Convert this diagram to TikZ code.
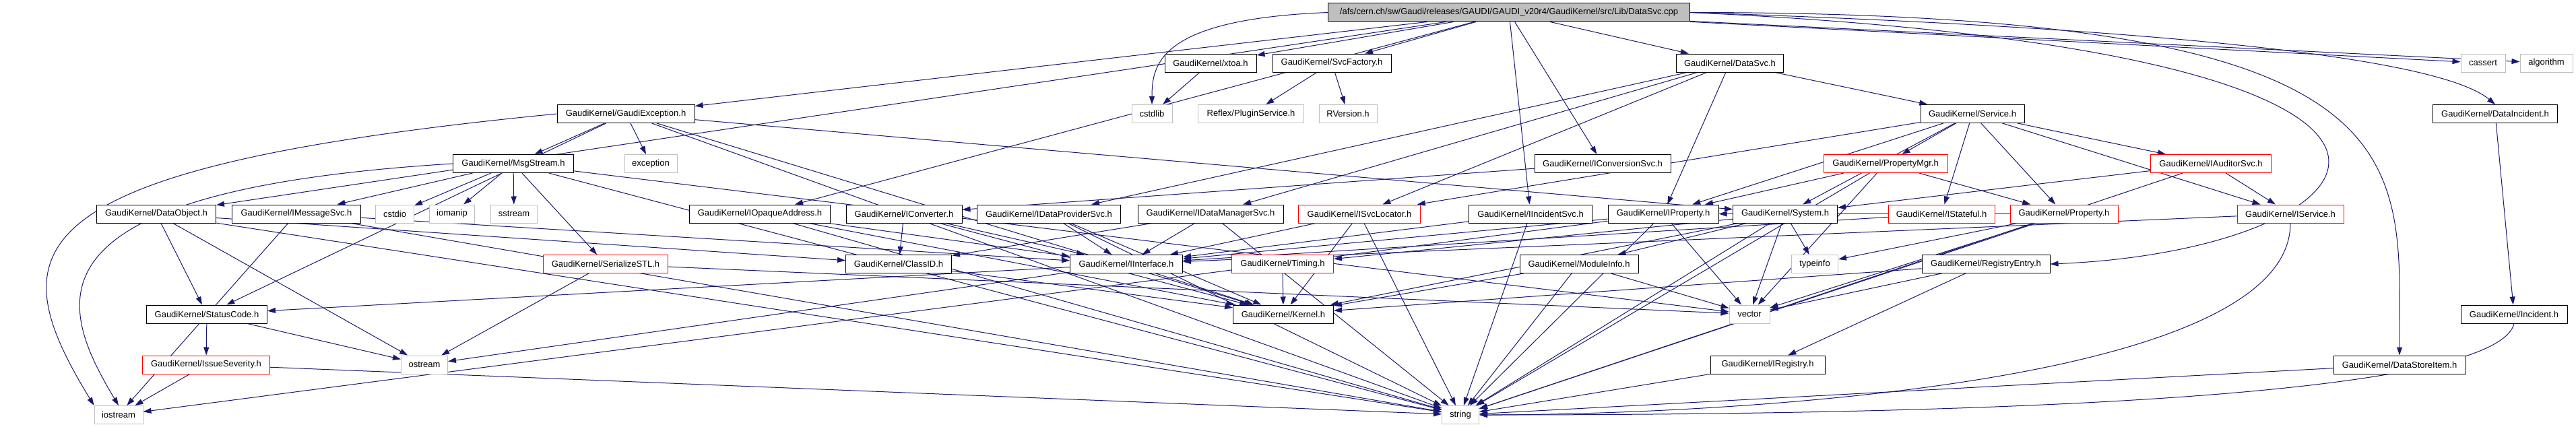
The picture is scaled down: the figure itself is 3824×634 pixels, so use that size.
\documentclass[tikz,border=0pt]{standalone}
\usepackage{fontspec}
\usetikzlibrary{arrows.meta,backgrounds}
\newfontfamily\hfont{Liberation Sans}
\definecolor{depblue}{RGB}{25,25,112}
\definecolor{sysgray}{RGB}{191,191,191}
\tikzset{
  hdr/.style={draw=black, fill=white, line width=1pt, minimum height=27pt,
    inner xsep=3pt, inner ysep=0pt, font=\hfont\fontsize{13}{15}\selectfont},
  nodoc/.style={hdr, draw=red},
  syshdr/.style={hdr, draw=sysgray},
  rootbox/.style={hdr, fill=sysgray},
  wd/.style={minimum width=#1pt},
  dep/.style={depblue, line width=1pt, -{Triangle[length=12pt,width=8pt]}}
}
\begin{document}
\begin{tikzpicture}[x=1pt,y=-1pt]
  \useasboundingbox (0,0) rectangle (3824,634);
  \node[rootbox,wd=537] (root) at (2240,18.5) {/afs/cern.ch/sw/Gaudi/releases/GAUDI/GAUDI\_v20r4/GaudiKernel/src/Lib/DataSvc.cpp};

  \node[hdr,wd=136] (xtoa) at (1797,93.5) {GaudiKernel/xtoa.h};
  \node[hdr,wd=176] (svcfac) at (1977,93.5) {GaudiKernel/SvcFactory.h};
  \node[hdr,wd=159] (datasvch) at (2568,93.5) {GaudiKernel/DataSvc.h};
  \node[syshdr,wd=66] (cassert) at (3686,93.5) {cassert};
  \node[syshdr,wd=78] (algorithm) at (3780,93.5) {algorithm};

  \node[hdr,wd=204] (gexc) at (929,169) {GaudiKernel/GaudiException.h};
  \node[syshdr,wd=60] (cstdlib) at (1710,169) {cstdlib};
  \node[syshdr,wd=157] (plugin) at (1857,169) {Reflex/PluginService.h};
  \node[syshdr,wd=86] (rversion) at (2001,169) {RVersion.h};
  \node[hdr,wd=154] (service) at (2928,169) {GaudiKernel/Service.h};
  \node[hdr,wd=185] (dataincident) at (3704,169) {GaudiKernel/DataIncident.h};

  \node[hdr,wd=179] (msgstream) at (762,243) {GaudiKernel/MsgStream.h};
  \node[syshdr,wd=78] (exception) at (966,243) {exception};
  \node[hdr,wd=202] (iconvsvc) at (2379,243) {GaudiKernel/IConversionSvc.h};
  \node[nodoc,wd=184] (propmgr) at (2799,243) {GaudiKernel/PropertyMgr.h};
  \node[nodoc,wd=179] (iauditor) at (3282,243) {GaudiKernel/IAuditorSvc.h};

  \node[hdr,wd=177] (dataobject) at (232,317.5) {GaudiKernel/DataObject.h};
  \node[hdr,wd=191] (imsgsvc) at (440,317.5) {GaudiKernel/IMessageSvc.h};
  \node[syshdr,wd=57] (cstdio) at (586,317.5) {cstdio};
  \node[syshdr,wd=67] (iomanip) at (671,317.5) {iomanip};
  \node[syshdr,wd=69] (sstream) at (763,317.5) {sstream};
  \node[hdr,wd=209] (opaque) at (1128,317.5) {GaudiKernel/IOpaqueAddress.h};
  \node[hdr,wd=172] (iconverter) at (1342,317.5) {GaudiKernel/IConverter.h};
  \node[hdr,wd=213] (idataprov) at (1557,317.5) {GaudiKernel/IDataProviderSvc.h};
  \node[hdr,wd=216] (idatamgr) at (1797,317.5) {GaudiKernel/IDataManagerSvc.h};
  \node[nodoc,wd=181] (isvcloc) at (2018,317.5) {GaudiKernel/ISvcLocator.h};
  \node[hdr,wd=183] (iincsvc) at (2272,317.5) {GaudiKernel/IIncidentSvc.h};
  \node[hdr,wd=164] (iproperty) at (2469,317.5) {GaudiKernel/IProperty.h};
  \node[hdr,wd=155] (system) at (2650,317.5) {GaudiKernel/System.h};
  \node[nodoc,wd=158] (istateful) at (2882,317.5) {GaudiKernel/IStateful.h};
  \node[nodoc,wd=160] (property) at (3064,317.5) {GaudiKernel/Property.h};
  \node[nodoc,wd=158] (iservice) at (3400,317.5) {GaudiKernel/IService.h};

  \node[nodoc,wd=185] (serialize) at (899,392) {GaudiKernel/SerializeSTL.h};
  \node[hdr,wd=157] (classid) at (1334,392) {GaudiKernel/ClassID.h};
  \node[hdr,wd=167] (iinterface) at (1672,392) {GaudiKernel/IInterface.h};
  \node[nodoc,wd=151] (timing) at (1904,392) {GaudiKernel/Timing.h};
  \node[hdr,wd=176] (moduleinfo) at (2344,392) {GaudiKernel/ModuleInfo.h};
  \node[syshdr,wd=69] (typeinfo) at (2694,392) {typeinfo};
  \node[hdr,wd=190] (regentry) at (2948,392) {GaudiKernel/RegistryEntry.h};

  \node[hdr,wd=179] (statuscode) at (307,466.5) {GaudiKernel/StatusCode.h};
  \node[hdr,wd=149] (kernel) at (1905,466.5) {GaudiKernel/Kernel.h};
  \node[syshdr,wd=60] (vector) at (2597,466.5) {vector};
  \node[hdr,wd=158] (incident) at (3732,466.5) {GaudiKernel/Incident.h};

  \node[nodoc,wd=189] (issuesev) at (306,541.5) {GaudiKernel/IssueSeverity.h};
  \node[syshdr,wd=69] (ostream) at (630,541.5) {ostream};
  \node[hdr,wd=170] (iregistry) at (2624,541.5) {GaudiKernel/IRegistry.h};
  \node[hdr,wd=196] (datastore) at (3562,541.5) {GaudiKernel/DataStoreItem.h};

  \node[syshdr,wd=72] (iostream) at (176,616) {iostream};
  \node[syshdr,wd=55] (string) at (2168,616) {string};

  \begin{pgfonlayer}{background}
  \draw[dep] (root) -- (gexc); \draw[dep] (root) -- (xtoa); \draw[dep] (root) -- (svcfac);
  \draw[dep] (root) -- (datasvch); \draw[dep] (root) -- (cassert); \draw[dep] (root) -- (algorithm);
  \draw[dep] (root.east) .. controls +(900,30) and +(-60,-50) .. (dataincident.north);
  \draw[dep] (root.west) .. controls +(-250,10) and +(0,-60) .. (cstdlib.north);
  \draw[dep] (root) -- (iconvsvc); \draw[dep] (root) -- (iincsvc); \draw[dep] (root) -- (dataobject);
  \draw[dep] (root) -- (opaque);
  \draw[dep] (root.east) .. controls +(1300,60) and +(500,-20) .. (regentry.east);
  \draw[dep] (root.east) .. controls +(1100,0) and +(0,-300) .. (datastore.north);
  \draw[dep] (xtoa) -- (cstdlib);
  \draw[dep] (svcfac) -- (plugin); \draw[dep] (svcfac) -- (rversion);
  \draw[dep] (datasvch) -- (service); \draw[dep] (datasvch) -- (idataprov); \draw[dep] (datasvch) -- (idatamgr);
  \draw[dep] (datasvch) -- (isvcloc); \draw[dep] (datasvch) -- (iproperty);
  \draw[dep] (gexc) -- (msgstream); \draw[dep] (gexc) -- (exception); \draw[dep] (gexc) -- (statuscode);
  \draw[dep] (gexc.west) .. controls +(-820,80) and +(-140,-230) .. (iostream.north west);
  \draw[dep] (gexc) -- (kernel); \draw[dep] (gexc) -- (string); \draw[dep] (gexc) -- (system);
  \draw[dep] (msgstream) -- (imsgsvc); \draw[dep] (msgstream) -- (cstdio); \draw[dep] (msgstream) -- (iomanip);
  \draw[dep] (msgstream) -- (sstream); \draw[dep] (msgstream) -- (serialize);
  \draw[dep] (msgstream.west) .. controls +(-650,40) and +(-90,-150) .. (iostream.north);
  \draw[dep] (msgstream) -- (string); \draw[dep] (msgstream) -- (vector);
  \draw[dep] (imsgsvc) -- (iinterface); \draw[dep] (imsgsvc) -- (iostream); \draw[dep] (imsgsvc) -- (string);
  \draw[dep] (dataobject) -- (classid); \draw[dep] (dataobject) -- (statuscode); \draw[dep] (dataobject) -- (string);
  \draw[dep] (dataobject) -- (ostream);
  \draw[dep] (iconvsvc) -- (iconverter);
  \draw[dep] (serialize) -- (ostream); \draw[dep] (serialize) -- (vector);
  \draw[dep] (statuscode) -- (issuesev); \draw[dep] (statuscode) -- (ostream);
  \draw[dep] (issuesev) -- (iostream); \draw[dep] (issuesev) -- (string);
  \draw[dep] (opaque) -- (kernel); \draw[dep] (opaque) -- (iinterface); \draw[dep] (opaque) -- (string);
  \draw[dep] (iconverter) -- (classid); \draw[dep] (iconverter) -- (iinterface); \draw[dep] (iconverter) -- (kernel);
  \draw[dep] (idataprov) -- (iinterface); \draw[dep] (idataprov) -- (string); \draw[dep] (idataprov) -- (kernel);
  \draw[dep] (idatamgr) -- (iinterface); \draw[dep] (idatamgr) -- (classid); \draw[dep] (idatamgr) -- (string);
  \draw[dep] (isvcloc) -- (iinterface); \draw[dep] (isvcloc) -- (kernel); \draw[dep] (isvcloc) -- (string);
  \draw[dep] (iincsvc) -- (iinterface); \draw[dep] (iincsvc) -- (string);
  \draw[dep] (iproperty) -- (iinterface); \draw[dep] (iproperty) -- (string); \draw[dep] (iproperty) -- (vector);
  \draw[dep] (iproperty) -- (iostream);
  \draw[dep] (system) -- (moduleinfo); \draw[dep] (system) -- (timing); \draw[dep] (system) -- (kernel);
  \draw[dep] (system) -- (string); \draw[dep] (system) -- (vector); \draw[dep] (system) -- (typeinfo);
  \draw[dep] (istateful) -- (iinterface);
  \draw[dep] (property) -- (iproperty); \draw[dep] (property) -- (typeinfo); \draw[dep] (property) -- (string);
  \draw[dep] (property) -- (vector);
  \draw[dep] (propmgr) -- (iproperty); \draw[dep] (propmgr) -- (property); \draw[dep] (propmgr) -- (string);
  \draw[dep] (propmgr) -- (vector);
  \draw[dep] (iauditor) -- (iservice); \draw[dep] (iauditor) -- (system); \draw[dep] (iauditor) -- (string);
  \draw[dep] (iservice) -- (iinterface);
  \draw[dep] (iservice.south) .. controls +(0,250) and +(300,0) .. (string.east);
  \draw[dep] (service) -- (propmgr); \draw[dep] (service) -- (istateful); \draw[dep] (service) -- (property);
  \draw[dep] (service) -- (iauditor); \draw[dep] (service) -- (iservice); \draw[dep] (service) -- (iproperty);
  \draw[dep] (service) -- (isvcloc); \draw[dep] (service) -- (system);
  \draw[dep] (moduleinfo) -- (kernel); \draw[dep] (moduleinfo) -- (string); \draw[dep] (moduleinfo) -- (vector);
  \draw[dep] (timing) -- (kernel);
  \draw[dep] (regentry) -- (iregistry); \draw[dep] (regentry) -- (kernel); \draw[dep] (regentry) -- (vector);
  \draw[dep] (iregistry) -- (string); \draw[dep] (datastore) -- (string);
  \draw[dep] (dataincident) -- (incident);
  \draw[dep] (incident.south) .. controls +(-30,120) and +(600,0) .. (string.east);
  \draw[dep] (classid) -- (kernel);
  \draw[dep] (iinterface) -- (statuscode); \draw[dep] (iinterface) -- (ostream); \draw[dep] (iinterface) -- (kernel);
  \end{pgfonlayer}
\end{tikzpicture}
\end{document}
